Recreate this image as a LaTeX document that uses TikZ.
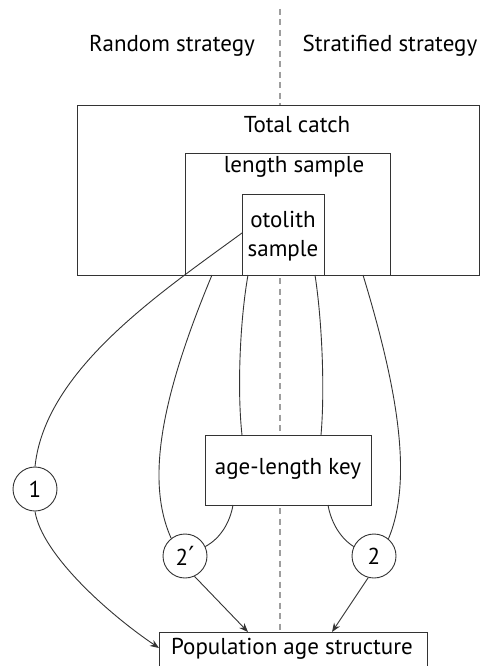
\documentclass[tikz,border=0pt]{standalone}
\usepackage{fontspec}
\setmainfont{PT Sans}
\newfontfamily\primefont{DejaVu Sans}
\usetikzlibrary{arrows.meta,calc}
\definecolor{linec}{gray}{0.2}
\definecolor{dashc}{gray}{0.62}
\begin{document}
\begin{tikzpicture}[x=1pt,y=-1pt,
  box/.style={draw=linec, line width=0.9pt, inner sep=0pt, outer sep=0pt, anchor=north west},
  lbl/.style={font=\fontsize{23}{29}\selectfont, inner sep=0pt, align=center},
  numc/.style={circle, draw=linec, line width=0.9pt, minimum size=44pt, inner sep=0pt, fill=white, font=\fontsize{23}{26}\selectfont},
  conn/.style={draw=linec, line width=0.9pt},
  arr/.style={conn, -{Stealth[length=9pt,width=7pt]}},
  divider/.style={draw=dashc, line width=1.3pt, dash pattern=on 6pt off 4.5pt}]
\useasboundingbox (0,0) rectangle (480,666);
% boxes
\node[box, minimum width=402pt, minimum height=170pt] (total) at (77,105) {};
\node[box, minimum width=205pt, minimum height=122pt] (len) at (185,153) {};
\node[box, minimum width=82pt, minimum height=81pt] (oto) at (242,194) {};
\node[box, minimum width=166pt, minimum height=70pt] (key) at (205,435) {};
\node[box, minimum width=268pt, minimum height=60pt] (pop) at (159,632) {};
% labels
\node[lbl] (rand) at (172,46) {Random strategy};
\node[lbl] (strat) at (390,46) {Stratified strategy};
\node[lbl] (totall) at (297,125) {Total catch};
\node[lbl] (lenl) at (294,167) {length sample};
\node[lbl] (otol) at (283,236) {otolith\\sample};
\node[lbl] (keyl) at (288,469) {age-length key};
\node[lbl] (popl) at (292,649) {Population age structure};
% circles
\node[numc] (n1) at (35,489) {1};
\node[numc] (n2p) at (185,556) {2\kern0.5pt\raisebox{1pt}{\primefont\fontsize{25}{26}\selectfont\char"2032}};
\node[numc] (n2) at (374,556) {2};
% divider
\coordinate (dtop) at (280,9);
\draw[divider] (dtop) -- (dtop |- total.north);
\draw[divider] ($(dtop |- total.south)+(0,3)$) -- ($(dtop |- key.north)+(0,-2)$);
\draw[divider] ($(dtop |- key.south)+(0,3)$) -- ($(dtop |- pop.north)+(0,-2)$);
% connectors
\draw[conn] ($(oto.north west)+(0,39)$) .. controls (160,293) and (45,370) .. (n1.north);
\draw[arr] (n1.south) .. controls (42,555) and (110,615) .. ($(pop.north west)+(0,16)$);
\draw[conn] ($(total.south west)+(135,0)$) .. controls (162,395) and (145,480) .. (n2p.128);
\draw[conn] ($(oto.south west)+(6,0)$) .. controls (240,320) and (237,390) .. ($(key.north west)+(37,0)$);
\draw[conn] ($(key.south west)+(28,0)$) .. controls (230,522) and (221,538) .. (n2p.25);
\draw[conn] ($(oto.south west)+(73,0)$) .. controls (322,320) and (325,390) .. ($(key.north west)+(116,0)$);
\draw[conn] ($(key.south west)+(123,0)$) .. controls (331,522) and (340,538) .. (n2.155);
\draw[conn] ($(total.south west)+(286,0)$) .. controls (398,390) and (413,480) .. (n2.50);
\draw[arr] (n2p.-65) -- ($(pop.north west)+(89,0)$);
\draw[arr] (n2.-105) -- ($(pop.north west)+(173,0)$);
\end{tikzpicture}
\end{document}
